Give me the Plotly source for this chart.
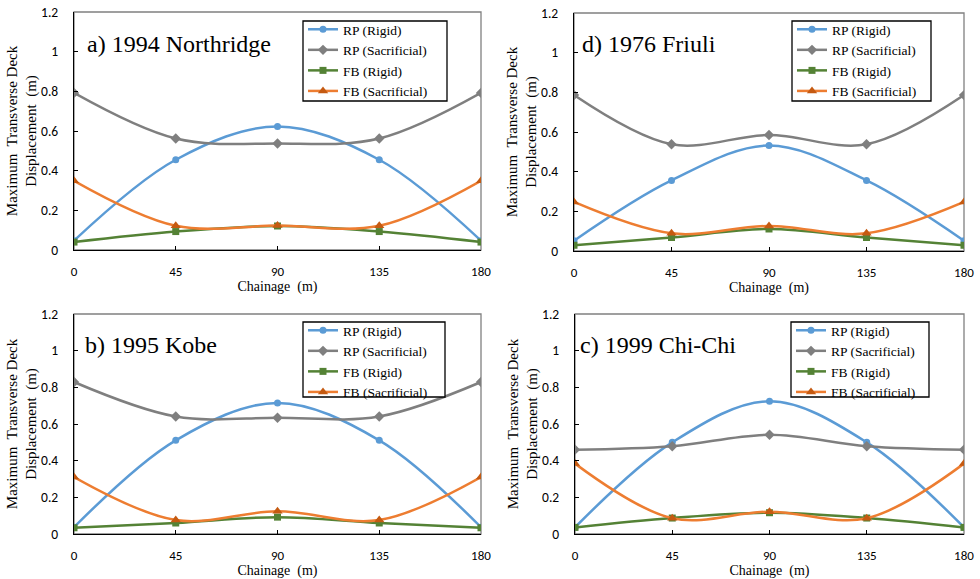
import plotly.graph_objects as go
from plotly.subplots import make_subplots

chainage = [0, 45, 90, 135, 180]
x_ticks = [0, 45, 90, 135, 180]
y_ticks = [0, 0.2, 0.4, 0.6, 0.8, 1, 1.2]
y_tick_text = ["0", "0.2", "0.4", "0.6", "0.8", "1", "1.2"]

series_names = ["RP (Rigid)", "RP (Sacrificial)", "FB (Rigid)", "FB (Sacrificial)"]

# panel titles
titles = ["a) 1994 Northridge", "d) 1976 Friuli", "b) 1995 Kobe", "c) 1999 Chi-Chi"]

northridge_rp_rigid = [0.047, 0.455, 0.623, 0.455, 0.047]
northridge_rp_sac = [0.792, 0.562, 0.537, 0.562, 0.792]
northridge_fb_rigid = [0.04, 0.093, 0.121, 0.093, 0.04]
northridge_fb_sac = [0.349, 0.122, 0.123, 0.122, 0.349]

friuli_rp_rigid = [0.052, 0.356, 0.532, 0.356, 0.052]
friuli_rp_sac = [0.786, 0.538, 0.585, 0.538, 0.786]
friuli_fb_rigid = [0.029, 0.068, 0.111, 0.068, 0.029]
friuli_fb_sac = [0.247, 0.089, 0.126, 0.089, 0.247]

kobe_rp_rigid = [0.037, 0.511, 0.715, 0.511, 0.037]
kobe_rp_sac = [0.829, 0.641, 0.634, 0.641, 0.829]
kobe_fb_rigid = [0.034, 0.06, 0.092, 0.06, 0.034]
kobe_fb_sac = [0.311, 0.076, 0.124, 0.076, 0.311]

chichi_rp_rigid = [0.036, 0.5, 0.724, 0.5, 0.036]
chichi_rp_sac = [0.46, 0.479, 0.541, 0.479, 0.46]
chichi_fb_rigid = [0.036, 0.087, 0.116, 0.087, 0.036]
chichi_fb_sac = [0.384, 0.086, 0.122, 0.086, 0.384]

panels = [
    [northridge_rp_rigid, northridge_rp_sac, northridge_fb_rigid, northridge_fb_sac],
    [friuli_rp_rigid, friuli_rp_sac, friuli_fb_rigid, friuli_fb_sac],
    [kobe_rp_rigid, kobe_rp_sac, kobe_fb_rigid, kobe_fb_sac],
    [chichi_rp_rigid, chichi_rp_sac, chichi_fb_rigid, chichi_fb_sac],
]

line_colors = ["#5B9BD5", "#7F7F7F", "#548235", "#ED7D31"]
marker_colors = ["#5B9BD5", "#7F7F7F", "#548235", "#C55A11"]
marker_symbols = ["circle", "diamond", "square", "triangle-up"]
marker_sizes = [7, 8, 7, 9]

W, H = 980, 579
# pixel boxes of plot areas: (left, right, top, bottom)
boxes = [(74, 481, 12, 250), (574, 964, 13, 251), (74, 481, 314, 534), (575, 964, 314, 534)]
# legend frames: (left, right, top, bottom)
legend_boxes = [(303, 447, 21, 101), (792, 931, 21, 101), (303, 445, 322, 397), (791, 929, 322, 397)]
title_pos = [(85, 44), (580, 44), (83, 345), (578, 345)]

fig = make_subplots(rows=2, cols=2)
cells = [(1, 1), (1, 2), (2, 1), (2, 2)]

serif = "Liberation Serif, Times New Roman, serif"
sans = "Carlito, Lato, Calibri, sans-serif"
leg_font = 13.5

for p, data in enumerate(panels):
    r, c = cells[p]
    leg = "legend" if p == 0 else f"legend{p+1}"
    for s in range(4):
        fig.add_trace(go.Scatter(
            x=chainage, y=data[s], name=series_names[s], mode="lines+markers",
            line=dict(color=line_colors[s], width=2.5, shape="spline", smoothing=1.0),
            marker=dict(color=marker_colors[s], symbol=marker_symbols[s], size=marker_sizes[s]),
            legend=leg, showlegend=True,
        ), row=r, col=c)

layout_upd = {}
for p in range(4):
    l, rr, t, b = boxes[p]
    xa = "xaxis" if p == 0 else f"xaxis{p+1}"
    ya = "yaxis" if p == 0 else f"yaxis{p+1}"
    layout_upd[xa] = dict(
        domain=[l / W, rr / W], range=[0, 180], tickvals=x_ticks, automargin=False,
        ticks="inside", ticklen=4, tickcolor="black", showgrid=False, zeroline=False,
        showline=True, linecolor="black", linewidth=1.3,
        tickfont=dict(family=sans, size=13, color="black"), ticklabelstandoff=9,
        title=dict(text="Chainage  (m)", font=dict(family=serif, size=14, color="black"), standoff=2),
    )
    layout_upd[ya] = dict(
        domain=[1 - b / H, 1 - t / H], range=[0, 1.2], tickvals=y_ticks, ticktext=y_tick_text,
        automargin=False,
        ticks="inside", ticklen=4, tickcolor="black", showgrid=False, zeroline=False,
        showline=True, linecolor="black", linewidth=1.3,
        tickfont=dict(family=sans, size=13.5, color="black"), ticklabelstandoff=12,
        title=dict(text="Maximum  Transverse Deck<br>Displacement  (m)",
                   font=dict(family=serif, size=15, color="black"), standoff=0),
    )
    leg = "legend" if p == 0 else f"legend{p+1}"
    ll, lr, lt, lb = legend_boxes[p]
    layout_upd[leg] = dict(
        x=ll / W, y=1 - (lt - 7) / H, xanchor="left", yanchor="top", xref="paper", yref="paper",
        bgcolor="rgba(0,0,0,0)", borderwidth=0,
        font=dict(family=serif, size=leg_font, color="black"), tracegroupgap=0,
        itemwidth=30,
    )

fig.update_layout(**layout_upd)

shapes = []
annotations = []
for p in range(4):
    l, rr, t, b = boxes[p]
    shapes.append(dict(type="rect", xref="paper", yref="paper",
                       x0=l / W, x1=rr / W, y0=1 - b / H, y1=1 - t / H,
                       line=dict(color="#808080", width=1.3), layer="below"))
    ll, lr, lt, lb = legend_boxes[p]
    shapes.append(dict(type="rect", xref="paper", yref="paper",
                       x0=ll / W, x1=lr / W, y0=1 - lb / H, y1=1 - lt / H,
                       line=dict(color="black", width=1.3), fillcolor="white", layer="above"))
    tx, ty = title_pos[p]
    annotations.append(dict(text=titles[p], x=tx / W, y=1 - ty / H, xref="paper", yref="paper",
                            xanchor="left", yanchor="middle", showarrow=False,
                            font=dict(family=serif, size=24, color="black")))

fig.update_layout(
    width=W, height=H, margin=dict(l=0, r=0, t=0, b=0),
    paper_bgcolor="white", plot_bgcolor="white",
    shapes=shapes, annotations=annotations,
)

fig.write_html("out.html", config={"displayModeBar": False},
               post_script="document.body.style.margin='0';document.body.style.overflow='hidden';")
